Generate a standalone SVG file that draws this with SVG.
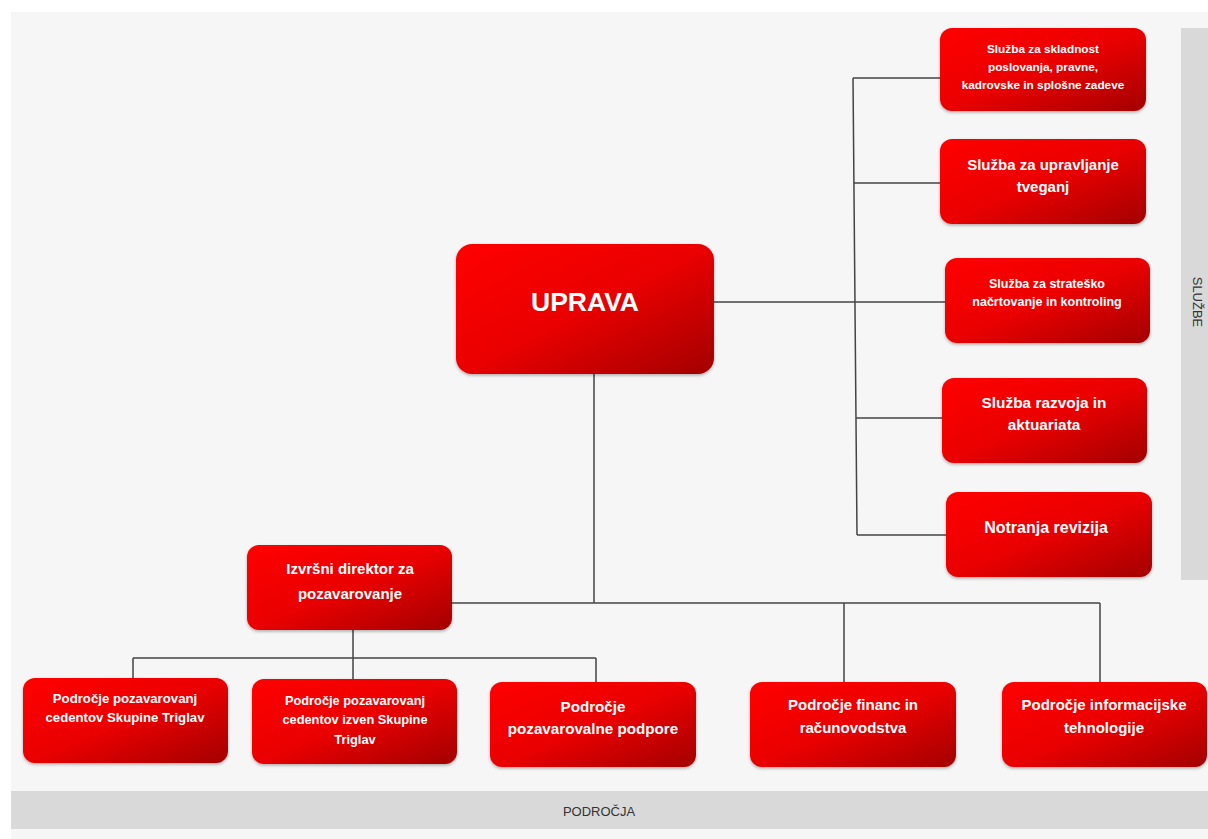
<svg xmlns="http://www.w3.org/2000/svg" width="1208" height="839" viewBox="0 0 1208 839">
<defs>
<linearGradient id="red" x1="0" y1="0" x2="1" y2="1">
<stop offset="0" stop-color="#ff0000"/>
<stop offset="0.5" stop-color="#ea0000"/>
<stop offset="1" stop-color="#a30000"/>
</linearGradient>
<filter id="sh" x="-10%" y="-10%" width="120%" height="125%">
<feDropShadow dx="0" dy="1.5" stdDeviation="1.8" flood-color="#000" flood-opacity="0.3"/>
</filter>
<style>
.box{fill:url(#red);filter:url(#sh)}
.t{font-family:"Liberation Sans",Arial,sans-serif;font-weight:bold;fill:#ffffff;text-anchor:middle}
.lbl{font-family:"Liberation Sans",Arial,sans-serif;fill:#333333;text-anchor:middle;font-size:13px}
.c{fill:none;stroke:#444444;stroke-width:1.5}
</style>
</defs>
<rect x="0" y="0" width="1208" height="839" fill="#ffffff"/>
<rect x="11" y="12" width="1197" height="827" fill="#f6f6f6"/>
<rect x="1181" y="28" width="27" height="552" fill="#d9d9d9"/>
<rect x="11" y="791" width="1197" height="38" fill="#d9d9d9"/>
<text class="lbl" transform="translate(1193,302) rotate(90)">SLUŽBE</text>
<text class="lbl" x="599" y="816">PODROČJA</text>

<g id="connectors">
<path class="c" d="M714,302 H855 M853,78 L857,535 M853,78 H940 M854,183 H940 M855,302 H945 M856,418 H942 M857,535 H946"/>
<path class="c" d="M594,374 V603 M452,603 H1100 M844,603 V682 M1100,603 V682"/>
<path class="c" d="M353,630 V679 M133,658 H596 M133,658 V678 M596,658 V682"/>
</g>

<g id="uprava">
<rect class="box" x="456" y="244" width="258" height="130" rx="16"/>
<text class="t" x="585" y="311" font-size="26.5">UPRAVA</text>
</g>
<g id="sluzba-skladnost">
<rect class="box" x="940" y="28" width="206" height="83" rx="12"/>
<text class="t" font-size="11.8"><tspan x="1043" y="53">Služba za skladnost</tspan><tspan x="1043" y="71">poslovanja, pravne,</tspan><tspan x="1043" y="89">kadrovske in splošne zadeve</tspan></text>
</g>
<g id="sluzba-tveganja">
<rect class="box" x="940" y="139" width="206" height="85" rx="12"/>
<text class="t" font-size="15"><tspan x="1043" y="170">Služba za upravljanje</tspan><tspan x="1043" y="192">tveganj</tspan></text>
</g>
<g id="sluzba-strateg">
<rect class="box" x="945" y="258" width="205" height="85" rx="12"/>
<text class="t" font-size="12.5"><tspan x="1047" y="288">Služba  za strateško</tspan><tspan x="1047" y="306">načrtovanje in kontroling</tspan></text>
</g>
<g id="sluzba-razvoj">
<rect class="box" x="942" y="378" width="205" height="85" rx="12"/>
<text class="t" font-size="15.4"><tspan x="1044" y="408">Služba razvoja in</tspan><tspan x="1044" y="430">aktuariata</tspan></text>
</g>
<g id="notranja-revizija">
<rect class="box" x="946" y="492" width="206" height="85" rx="12"/>
<text class="t" font-size="16"><tspan x="1046" y="533">Notranja revizija</tspan></text>
</g>
<g id="izvrsni">
<rect class="box" x="247" y="545" width="205" height="85" rx="12"/>
<text class="t" font-size="15"><tspan x="350" y="574">Izvršni direktor za</tspan><tspan x="350" y="599">pozavarovanje</tspan></text>
</g>
<g id="podrocje-1">
<rect class="box" x="23" y="678" width="205" height="85" rx="12"/>
<text class="t" font-size="13.2"><tspan x="125" y="703">Področje pozavarovanj</tspan><tspan x="125" y="722">cedentov Skupine Triglav</tspan></text>
</g>
<g id="podrocje-2">
<rect class="box" x="252" y="679" width="205" height="85" rx="12"/>
<text class="t" font-size="12.8"><tspan x="355" y="705">Področje pozavarovanj</tspan><tspan x="355" y="724">cedentov izven Skupine</tspan><tspan x="355" y="744">Triglav</tspan></text>
</g>
<g id="podrocje-3">
<rect class="box" x="490" y="682" width="206" height="85" rx="12"/>
<text class="t" font-size="15.2"><tspan x="593" y="712">Področje</tspan><tspan x="593" y="734">pozavarovalne podpore</tspan></text>
</g>
<g id="podrocje-4">
<rect class="box" x="750" y="682" width="206" height="85" rx="12"/>
<text class="t" font-size="15"><tspan x="853" y="710">Področje financ in</tspan><tspan x="853" y="733">računovodstva</tspan></text>
</g>
<g id="podrocje-5">
<rect class="box" x="1002" y="682" width="205" height="85" rx="12"/>
<text class="t" font-size="15"><tspan x="1104" y="710">Področje informacijske</tspan><tspan x="1104" y="733">tehnologije</tspan></text>
</g>
</svg>
